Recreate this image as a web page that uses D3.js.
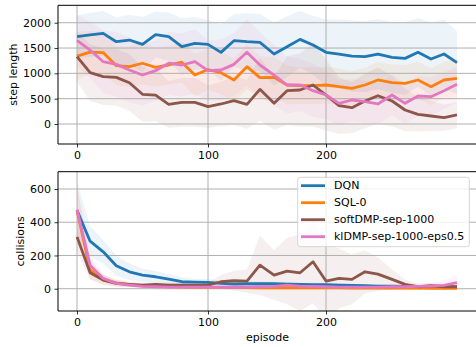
<!DOCTYPE html>
<html>
<head>
<meta charset="utf-8">
<script src="https://cdn.jsdelivr.net/npm/d3@7"></script>
<style>
  html, body { margin: 0; padding: 0; background: #fff; }
  svg { display: block; font-family: "DejaVu Sans", sans-serif; }
</style>
</head>
<body>
<svg id="chart" width="476" height="347"></svg>
<script>
// Episodes at which the runs were evaluated
const episodes = [0, 10, 20, 30, 40, 50, 60, 70, 80, 90, 100, 111, 122, 133, 144, 156, 167, 178, 189, 200,
                  211, 222, 233, 244, 256, 267, 278, 289, 300, 311];

const seriesNames = ["DQN", "SQL-0", "softDMP-sep-1000", "klDMP-sep-1000-eps0.5"];
const seriesColors = ["#1f77b4", "#ff7f0e", "#8c564b", "#e377c2"];

// Step length: mean and std per method
const stepDQN = [1724, 1760, 1790, 1625, 1658, 1573, 1765, 1724, 1527, 1592, 1573, 1415, 1645, 1625, 1612, 1382,
                 1526, 1671, 1559, 1415, 1382, 1342, 1329, 1382, 1316, 1296, 1415, 1283, 1382, 1211];
const stepDQNStd = [420, 430, 440, 480, 500, 540, 450, 480, 560, 520, 480, 560, 520, 560, 560, 620, 600, 560, 580, 650,
                    680, 700, 700, 690, 700, 720, 680, 720, 680, 620];
const stepSQL = [1340, 1420, 1410, 1151, 1132, 1200, 1119, 1165, 1220, 967, 1075, 1013, 869, 1132, 915, 921,
                 770, 757, 757, 770, 737, 704, 770, 870, 816, 803, 869, 737, 869, 900];
const stepSQLStd = [480, 420, 420, 380, 400, 420, 380, 380, 400, 420, 400, 420, 430, 450, 420, 400, 380, 360, 360, 360,
                    360, 340, 340, 360, 360, 360, 360, 360, 360, 380];
const stepSoft = [1330, 1013, 934, 921, 816, 586, 572, 388, 428, 428, 342, 395, 461, 388, 684, 408, 658, 671, 770, 572,
                  362, 322, 454, 559, 454, 276, 191, 158, 125, 178];
const stepSoftStd = [500, 560, 560, 560, 560, 540, 520, 460, 480, 480, 420, 440, 480, 480, 620, 520, 680, 720, 820, 700,
                     560, 500, 540, 560, 500, 420, 340, 300, 260, 260];
const stepKL = [1650, 1461, 1230, 1178, 1066, 967, 1053, 1200, 1165, 1230, 1053, 1066, 1178, 1415, 1165, 967, 770, 770,
                658, 572, 408, 474, 441, 395, 572, 408, 553, 540, 658, 783];
const stepKLStd = [500, 560, 620, 640, 640, 600, 600, 620, 620, 640, 600, 600, 620, 660, 640, 600, 560, 520, 520, 480,
                   440, 420, 420, 400, 400, 400, 400, 380, 360, 360];

// Collisions: mean and std per method
const colDQN = [472, 286, 222, 138, 102, 82, 72, 58, 42, 40, 38, 32, 28, 30, 30, 30, 28, 26, 25, 24,
                22, 20, 18, 16, 15, 14, 12, 12, 11, 10];
const colDQNStd = [170, 90, 70, 60, 50, 40, 35, 30, 25, 20, 20, 18, 15, 15, 15, 14, 14, 12, 12, 12,
                   12, 10, 10, 10, 10, 10, 10, 10, 10, 10];
const colSQL = [470, 115, 55, 35, 25, 18, 14, 12, 10, 9, 8, 8, 7, 7, 6, 6, 6, 5, 5, 5,
                5, 4, 4, 4, 4, 4, 4, 3, 3, 3];
const colSQLStd = [150, 60, 30, 20, 15, 12, 10, 8, 8, 8, 8, 8, 8, 8, 8, 8, 8, 8, 8, 8,
                   8, 8, 8, 8, 8, 8, 8, 8, 8, 8];
const colSoft = [312, 96, 52, 32, 26, 22, 26, 22, 22, 22, 22, 42, 48, 46, 142, 82, 106, 96, 162, 46,
                 62, 56, 102, 88, 56, 26, 12, 18, 12, 12];
const colSoftStd = [90, 40, 30, 20, 15, 15, 15, 15, 15, 15, 15, 40, 60, 70, 180, 150, 200, 230, 250, 230,
                    180, 150, 130, 100, 60, 30, 20, 15, 12, 12];
const colKL = [476, 142, 62, 32, 22, 14, 12, 10, 10, 10, 10, 9, 9, 10, 12, 14, 22, 16, 14, 12,
               10, 10, 10, 10, 12, 12, 14, 16, 20, 36];
const colKLStd = [150, 60, 25, 15, 10, 8, 8, 8, 8, 8, 8, 8, 8, 8, 8, 8, 10, 10, 8, 8,
                  8, 8, 8, 8, 10, 10, 15, 20, 30, 45];

const xTicks = [0, 100, 200];
const stepTicks = [0, 500, 1000, 1500, 2000];
const colTicks = [0, 200, 400, 600];

const panels = [
  { label: "step length", top: 5.3, bottom: 144, domain: [-395, 2344], ticks: stepTicks, labelX: 14,
    means: [stepDQN, stepSQL, stepSoft, stepKL], stds: [stepDQNStd, stepSQLStd, stepSoftStd, stepKLStd] },
  { label: "collisions", top: 171.7, bottom: 311, domain: [-134, 704], ticks: colTicks, labelX: 21,
    means: [colDQN, colSQL, colSoft, colKL], stds: [colDQNStd, colSQLStd, colSoftStd, colKLStd] }
];

const left = 58, right = 477;
const svg = d3.select("#chart");
// Evaluation episodes are spaced unevenly, so the axis is piecewise linear
const x = d3.scaleLinear().domain([0, 100, 200]).range([77, 208, 326]);

panels.forEach((p, pi) => {
  const y = d3.scaleLinear().domain(p.domain).range([p.bottom, p.top]);
  const g = svg.append("g");
  const clipId = "clip" + pi;
  svg.append("defs").append("clipPath").attr("id", clipId)
    .append("rect").attr("x", left).attr("y", p.top).attr("width", right - left).attr("height", p.bottom - p.top);

  const plot = g.append("g").attr("clip-path", `url(#${clipId})`);

  // std bands
  p.means.forEach((m, si) => {
    const s = p.stds[si];
    const area = d3.area()
      .x((d, i) => x(episodes[i]))
      .y0((d, i) => y(m[i] - s[i]))
      .y1((d, i) => y(m[i] + s[i]));
    plot.append("path").datum(m).attr("d", area)
      .attr("fill", seriesColors[si]).attr("fill-opacity", 0.085);
  });

  // grid
  xTicks.forEach(t => {
    plot.append("line").attr("x1", x(t)).attr("x2", x(t)).attr("y1", p.top).attr("y2", p.bottom)
      .attr("stroke", "#b0b0b0").attr("stroke-width", 1);
  });
  p.ticks.forEach(t => {
    plot.append("line").attr("x1", left).attr("x2", right).attr("y1", y(t)).attr("y2", y(t))
      .attr("stroke", "#b0b0b0").attr("stroke-width", 1);
  });

  // mean lines
  p.means.forEach((m, si) => {
    const line = d3.line().x((d, i) => x(episodes[i])).y(d => y(d));
    plot.append("path").datum(m).attr("d", line)
      .attr("fill", "none").attr("stroke", seriesColors[si]).attr("stroke-width", 2.8)
      .attr("stroke-linejoin", "round");
  });

  // axes
  const yAxis = d3.axisLeft(y).tickValues(p.ticks).tickFormat(d3.format("d")).tickSize(3.5).tickPadding(3.5);
  const ya = g.append("g").attr("transform", `translate(${left},0)`).call(yAxis);
  const xAxis = d3.axisBottom(x).tickValues(xTicks).tickFormat(d3.format("d")).tickSize(3.5).tickPadding(3.5);
  const xa = g.append("g").attr("transform", `translate(0,${p.bottom})`).call(xAxis);
  [ya, xa].forEach(a => {
    a.select(".domain").remove();
    a.selectAll("text").attr("font-size", 11).attr("fill", "#000")
      .attr("font-family", "DejaVu Sans, sans-serif");
    a.selectAll("line").attr("stroke", "#000").attr("stroke-width", 0.8);
  });

  // spines
  g.append("line").attr("x1", left).attr("x2", left).attr("y1", p.top).attr("y2", p.bottom)
    .attr("stroke", "#000").attr("stroke-width", 1);
  g.append("line").attr("x1", left).attr("x2", right).attr("y1", p.top).attr("y2", p.top)
    .attr("stroke", "#000").attr("stroke-width", 1);
  g.append("line").attr("x1", left).attr("x2", right).attr("y1", p.bottom).attr("y2", p.bottom)
    .attr("stroke", "#000").attr("stroke-width", 1);
  g.append("line").attr("x1", right).attr("x2", right).attr("y1", p.top).attr("y2", p.bottom)
    .attr("stroke", "#000").attr("stroke-width", 1);

  // y label
  g.append("text")
    .attr("transform", `translate(${p.labelX},${(p.top + p.bottom) / 2}) rotate(-90)`)
    .attr("text-anchor", "middle").attr("dominant-baseline", "middle")
    .attr("font-size", 11).text(p.label);
});

// x label
svg.append("text").attr("x", (left + right) / 2).attr("y", 341)
  .attr("text-anchor", "middle").attr("font-size", 11).text("episode");

// legend
const lg = svg.append("g");
lg.append("rect").attr("x", 297.7).attr("y", 177.3).attr("width", 171.6).attr("height", 69.4)
  .attr("rx", 2.5).attr("fill", "#fff").attr("fill-opacity", 0.8)
  .attr("stroke", "#cccccc").attr("stroke-width", 0.8);
seriesNames.forEach((name, i) => {
  const yy = 185.7 + i * 17;
  lg.append("line").attr("x1", 301).attr("x2", 325).attr("y1", yy).attr("y2", yy)
    .attr("stroke", seriesColors[i]).attr("stroke-width", 2.8);
  lg.append("text").attr("x", 334).attr("y", yy).attr("dominant-baseline", "central")
    .attr("font-size", 11).text(name);
});
</script>
</body>
</html>
